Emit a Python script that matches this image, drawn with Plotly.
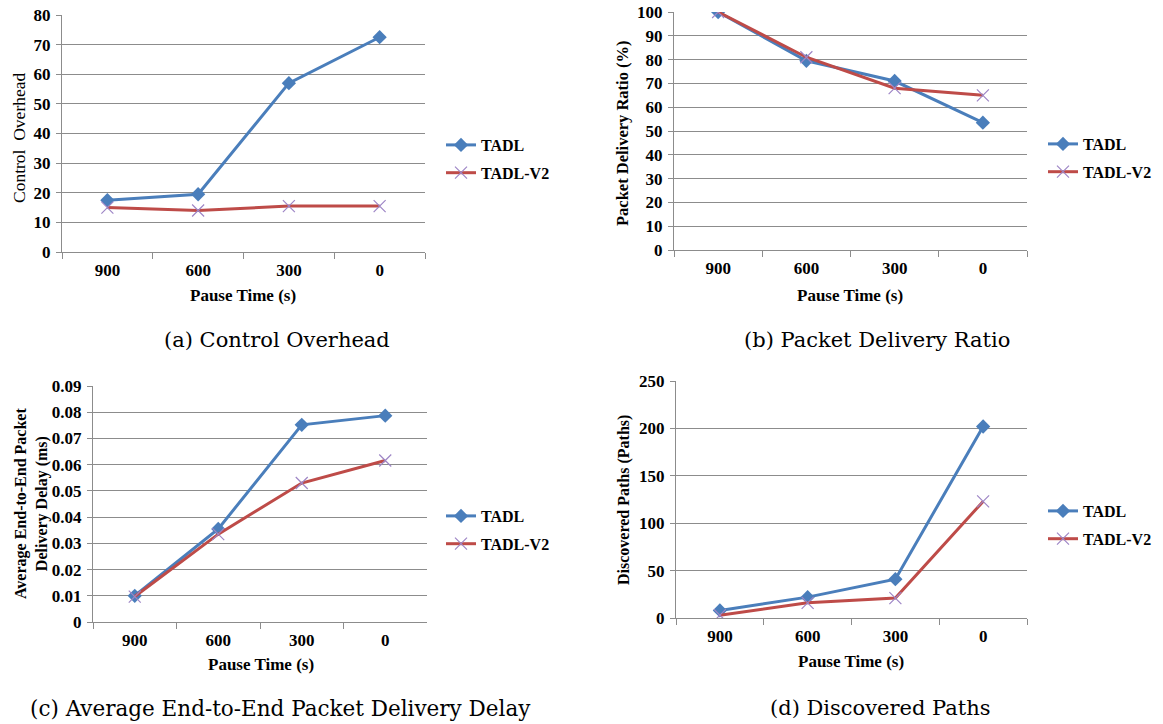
import plotly.graph_objects as go

W, H = 1163, 724

categories = ["900", "600", "300", "0"]

overhead_tadl = [17.5, 19.5, 57.0, 72.5]
overhead_v2 = [15.0, 14.0, 15.5, 15.5]

pdr_tadl = [100.0, 79.5, 71.0, 53.5]
pdr_v2 = [100.0, 81.0, 68.0, 65.0]

delay_tadl = [0.0100, 0.0355, 0.0752, 0.0787]
delay_v2 = [0.0097, 0.0335, 0.0530, 0.0616]

paths_tadl = [8, 22, 41, 202]
paths_v2 = [3, 16, 21, 123]

series_names = ["TADL", "TADL-V2"]

BLUE = "#4a7ebb"
RED = "#be4b48"
XMARK = "#9e86c6"
GRID = "#8c8c8c"
FONT = "Liberation Serif, Times New Roman, serif"
CAPFONT = "DejaVu Serif, serif"


def px(x):
    return x / W


def py(y):
    return 1 - y / H


panels = [
    dict(a=overhead_tadl, b=overhead_v2, rng=[0, 80], dtick=10,
         x=(62, 425), y=(15, 252), legend=(441, 128)),
    dict(a=pdr_tadl, b=pdr_v2, rng=[0, 100], dtick=10,
         x=(674, 1027), y=(12, 250), legend=(1043, 127)),
    dict(a=delay_tadl, b=delay_v2, rng=[0, 0.09], dtick=0.01,
         x=(93, 427), y=(386, 622), legend=(441, 499)),
    dict(a=paths_tadl, b=paths_v2, rng=[0, 250], dtick=50,
         x=(676, 1027), y=(381, 618), legend=(1043, 494)),
]

fig = go.Figure()
layout = dict(
    width=W, height=H, margin=dict(l=0, r=0, t=0, b=0, autoexpand=False),
    paper_bgcolor="white", plot_bgcolor="white",
    font=dict(family=FONT, size=14, color="black"),
)

for i, p in enumerate(panels, start=1):
    xa = "x" if i == 1 else f"x{i}"
    ya = "y" if i == 1 else f"y{i}"
    lg = "legend" if i == 1 else f"legend{i}"
    fig.add_trace(go.Scatter(
        x=categories, y=p["a"], name=series_names[0], mode="lines+markers",
        line=dict(color=BLUE, width=3),
        marker=dict(symbol="diamond", size=11, color=BLUE),
        legendgroup=f"a{i}",
        xaxis=xa, yaxis=ya, legend=lg))
    fig.add_trace(go.Scatter(
        x=categories, y=p["b"], name=series_names[1], mode="lines+markers",
        line=dict(color=RED, width=3),
        marker=dict(symbol="x-thin", size=12, line=dict(color=XMARK, width=1.2)),
        legendgroup=f"b{i}",
        xaxis=xa, yaxis=ya, legend=lg))
    xk = "xaxis" if i == 1 else f"xaxis{i}"
    yk = "yaxis" if i == 1 else f"yaxis{i}"
    layout[xk] = dict(
        domain=[px(p["x"][0]), px(p["x"][1])], anchor=ya,
        type="category", range=[-0.5, 3.5], tickson="boundaries",
        ticks="outside", ticklen=6, tickcolor=GRID, showgrid=False,
        showline=True, linecolor=GRID, linewidth=1.3, zeroline=False,
        tickfont=dict(family=FONT, size=17, color="black", weight="bold"),
        ticklabelstandoff=2, ticklabeloverflow="allow",
    )
    layout[yk] = dict(
        domain=[py(p["y"][1]), py(p["y"][0])], anchor=xa,
        range=p["rng"], dtick=p["dtick"], tick0=0,
        ticks="outside", ticklen=5, tickcolor=GRID,
        showgrid=True, gridcolor=GRID, gridwidth=1,
        showline=True, linecolor=GRID, linewidth=1.3, zeroline=False,
        tickfont=dict(family=FONT, size=17, color="black", weight="bold"),
        ticklabelstandoff=2, ticklabeloverflow="allow",
    )
    layout[lg] = dict(
        x=px(p["legend"][0]), y=py(p["legend"][1]), xanchor="left", yanchor="top",
        bgcolor="rgba(0,0,0,0)", borderwidth=0, itemwidth=30,
        font=dict(family=FONT, size=16, color="black", weight="bold"),
        tracegroupgap=4,
    )

fig.update_layout(**layout)

annotations = []


def ann(text, x, y, size, bold=True, angle=0, family=FONT):
    annotations.append(dict(
        text=text, x=px(x), y=py(y), xref="paper", yref="paper",
        showarrow=False, textangle=angle, xanchor="center", yanchor="middle",
        font=dict(family=family, size=size, color="black",
                  weight="bold" if bold else "normal"),
    ))


# x-axis titles
ann("Pause Time (s)", 243, 295, 17)
ann("Pause Time (s)", 850, 295, 17)
ann("Pause Time (s)", 261, 664, 17)
ann("Pause Time (s)", 851, 661, 17)

# y-axis titles
ann("Control  Overhead", 19, 138, 17.5, bold=False, angle=-90)
ann("Packet Delivery Ratio (%)", 623, 133, 16.5, angle=-90)
ann("Average End-to-End Packet<br>Delivery Delay (ms)", 31, 504, 16, angle=-90)
ann("Discovered Paths (Paths)", 624, 500, 16, angle=-90)

# captions
ann("(a) Control Overhead", 277, 340, 21, bold=False, family=CAPFONT)
ann("(b) Packet Delivery Ratio", 877, 340, 21, bold=False, family=CAPFONT)
ann("(c) Average End-to-End Packet Delivery Delay", 280, 708, 21.5, bold=False, family=CAPFONT)
ann("(d) Discovered Paths", 881, 708, 21, bold=False, family=CAPFONT)

fig.update_layout(annotations=annotations)

fig.write_html(
    "out.html",
    config={"displayModeBar": False},
    post_script="document.body.style.margin='0px';document.body.style.overflow='hidden';",
)
